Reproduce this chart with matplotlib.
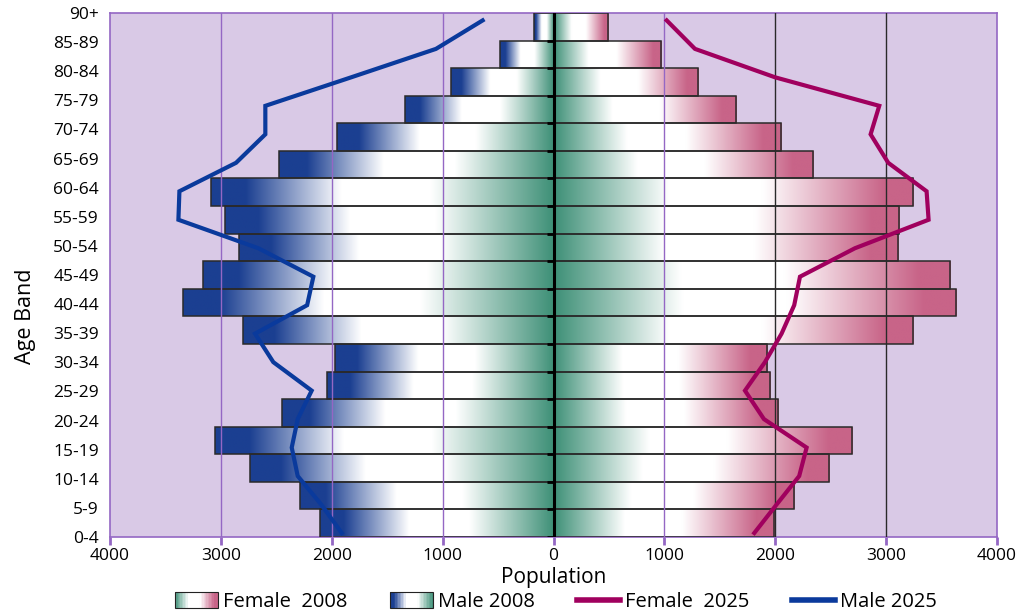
import numpy as np
import matplotlib
matplotlib.use("Agg")
import matplotlib.pyplot as plt
from matplotlib.colors import LinearSegmentedColormap
from matplotlib.patches import Rectangle
from matplotlib.legend_handler import HandlerBase
from matplotlib.lines import Line2D

plt.rcParams['font.family'] = ['Open Sans', 'DejaVu Sans']

age_bands = ["0-4", "5-9", "10-14", "15-19", "20-24", "25-29", "30-34", "35-39",
             "40-44", "45-49", "50-54", "55-59", "60-64", "65-69", "70-74",
             "75-79", "80-84", "85-89", "90+"]
male_2008 = [2103, 2283, 2737, 3057, 2446, 2040, 1967, 2797, 3338, 3158,
             2839, 2965, 3086, 2478, 1950, 1340, 925, 485, 176]
female_2008 = [1986, 2172, 2488, 2689, 2028, 1949, 1928, 3245, 3630, 3575,
               3104, 3118, 3245, 2337, 2049, 1643, 1300, 969, 494]
male_2025 = [1910, 2095, 2307, 2361, 2307, 2181, 2527, 2692, 2222, 2166,
             2662, 3383, 3374, 2863, 2599, 2599, 1826, 1060, 639]
female_2025 = [1811, 2012, 2216, 2283, 1898, 1727, 1907, 2057, 2171, 2223,
               2719, 3383, 3365, 3019, 2860, 2938, 2000, 1276, 1021]
x_ticks = [-4000, -3000, -2000, -1000, 0, 1000, 2000, 3000, 4000]

GREEN = "#3E9077"
PINK = "#C86488"
BLUE = "#1B3F91"
BG = "#D9C9E6"
PURPLE = "#9467C4"
LINE_F = "#A0005E"
LINE_M = "#0A3A9C"

cmap_f = LinearSegmentedColormap.from_list(
    "f", [(0, GREEN), (0.32, "white"), (0.58, "white"), (0.92, PINK), (1, PINK)])
cmap_m = LinearSegmentedColormap.from_list(
    "m", [(0, GREEN), (0.36, "white"), (0.62, "white"), (0.9, BLUE), (1, BLUE)])

W, H = 1016, 615
fig = plt.figure(figsize=(W / 100, H / 100), dpi=100)
ax = fig.add_axes([110 / W, (H - 537) / H, 887 / W, 524 / H])
ax.set_facecolor(BG)
n = len(age_bands)

grad = np.linspace(0, 1, 256)
for k in range(n):
    v = female_2008[k]
    img = cmap_f(grad)[None, :, :3]
    rect = Rectangle((0, k), v, 1, facecolor="none", edgecolor="#2a2a2a", lw=1.1, zorder=3)
    ax.add_patch(rect)
    im = ax.imshow(img, extent=[0, v, k, k + 1], aspect="auto", zorder=2,
                   interpolation="bilinear")
    im.set_clip_path(rect)
    v = male_2008[k]
    img = cmap_m(grad[::-1])[None, :, :3]
    rect = Rectangle((-v, k), v, 1, facecolor="none", edgecolor="#2a2a2a", lw=1.1, zorder=3)
    ax.add_patch(rect)
    im = ax.imshow(img, extent=[-v, 0, k, k + 1], aspect="auto", zorder=2,
                   interpolation="bilinear")
    im.set_clip_path(rect)

ax.set_xlim(-4000, 4000)
ax.set_ylim(0, n)

for xv in x_ticks[1:-1]:
    if xv == 0:
        continue
    col = "#2a2a2a" if xv >= 2000 else PURPLE
    ax.axvline(xv, color=col, lw=1.0, zorder=4)
ax.axvline(0, color="black", lw=2.2, zorder=5)
for b in range(n):
    ax.plot([-55, 0], [b, b], color="black", lw=2.0, zorder=5, solid_capstyle="butt")

for s in ax.spines.values():
    s.set_color(PURPLE)
    s.set_linewidth(1.2)

ax.set_xticks(x_ticks)
ax.set_xticklabels([str(abs(t)) for t in x_ticks], fontsize=12.5)
ax.tick_params(axis="x", direction="out", length=6, width=2, color=PURPLE, pad=2)
ax.set_yticks(np.arange(n) * n / (n - 1))
ax.set_yticklabels(age_bands, fontsize=12.5)
ax.tick_params(axis="y", length=0, pad=8)
ax.set_xlabel("Population", fontsize=15, labelpad=2)
fig.text(25 / W, 1 - 316 / H, "Age Band", rotation=90, fontsize=15.5,
         ha="center", va="center")

ax2 = ax.twinx()
ax2.set_ylim(-0.14, n - 1 + 0.26)
ax2.set_yticks([])
ax2.set_xlim(-4000, 4000)
ypos = np.arange(n)
ax2.plot(female_2025, ypos, color=LINE_F, lw=3, solid_joinstyle="miter", zorder=6)
ax2.plot([-v for v in male_2025], ypos, color=LINE_M, lw=3, solid_joinstyle="miter", zorder=6)
for s in ax2.spines.values():
    s.set_visible(False)


class GradHandler(HandlerBase):
    def __init__(self, cmap, reverse=False):
        super().__init__()
        self.cmap = cmap
        self.reverse = reverse

    def create_artists(self, legend, orig_handle, xdescent, ydescent, width, height,
                       fontsize, trans):
        arts = []
        m = 30
        for i in range(m):
            f = (i + 0.5) / m
            if self.reverse:
                f = 1 - f
            c = self.cmap(f)
            arts.append(Rectangle((-xdescent + width * i / m, -ydescent - 1), width / m + 0.3,
                                  height + 2, facecolor=c, edgecolor="none", transform=trans))
        arts.append(Rectangle((-xdescent, -ydescent - 1), width, height + 2, facecolor="none",
                              edgecolor="#222222", lw=0.8, transform=trans))
        return arts


hf = Rectangle((0, 0), 1, 1)
hm = Rectangle((0, 0), 1, 1)
lf = Line2D([], [], color=LINE_F, lw=4)
lm = Line2D([], [], color=LINE_M, lw=4)
fig.legend([hf, hm, lf, lm], ["Female  2008", "Male 2008", "Female  2025", "Male 2025"],
           handler_map={hf: GradHandler(cmap_f), hm: GradHandler(cmap_m, reverse=True)},
           loc="center", bbox_to_anchor=(556 / W, 1 - 602 / H), ncol=4, frameon=False,
           fontsize=14.5, handlelength=2.15, handletextpad=0.25, columnspacing=2.1)

fig.savefig("out.png", dpi=100)
